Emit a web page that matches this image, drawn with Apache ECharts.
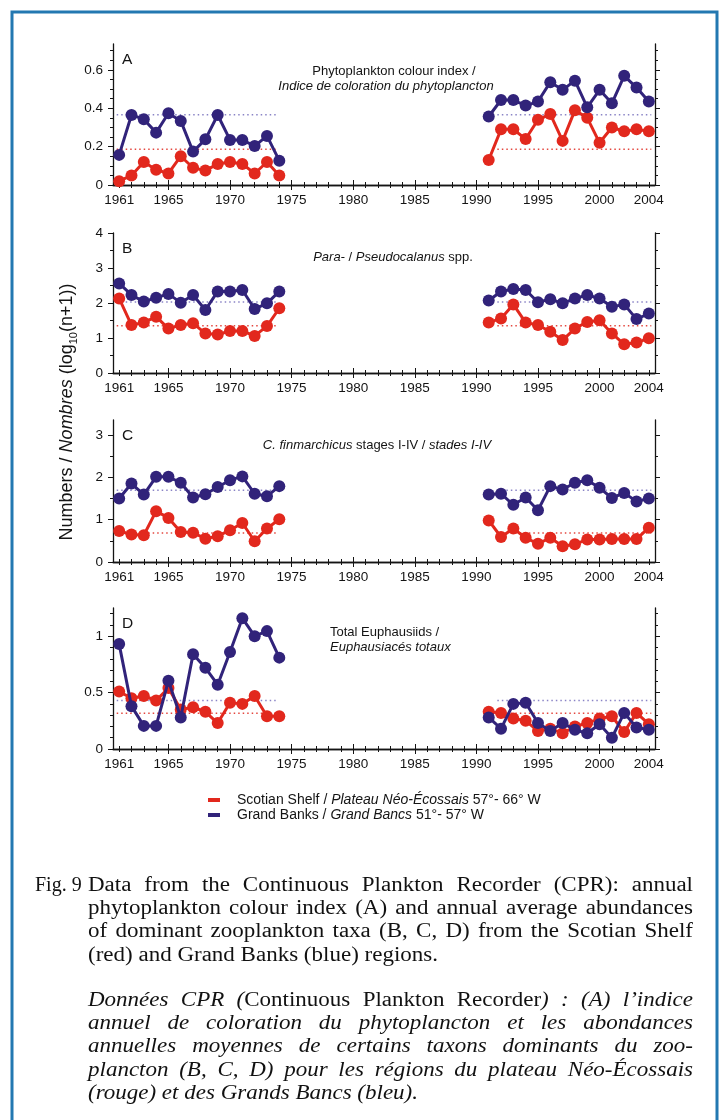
<!DOCTYPE html>
<html>
<head>
<meta charset="utf-8">
<script src="https://cdn.jsdelivr.net/npm/echarts@6/dist/echarts.min.js"></script>
<style>
  html, body { margin: 0; padding: 0; background: #ffffff; }
  #chart { width: 722px; height: 1120px; }
</style>
</head>
<body>
<div id="chart"></div>
<script>
// ---- Survey years (two CPR sampling periods) ----
const years = [1961, 1962, 1963, 1964, 1965, 1966, 1967, 1968, 1969, 1970, 1971, 1972, 1973, 1974,
               1991, 1992, 1993, 1994, 1995, 1996, 1997, 1998, 1999, 2000, 2001, 2002, 2003, 2004];

// ---- A: phytoplankton colour index ----
const colourScotian = [0.02, 0.05, 0.12, 0.08, 0.06, 0.15, 0.09, 0.075, 0.11, 0.12, 0.11, 0.06, 0.12, 0.05,
                       0.13, 0.29, 0.29, 0.24, 0.34, 0.37, 0.23, 0.39, 0.35, 0.22, 0.30, 0.28, 0.29, 0.28];
const colourBanks = [0.157, 0.365, 0.343, 0.273, 0.374, 0.334, 0.174, 0.238, 0.365, 0.235, 0.235, 0.203, 0.256, 0.127,
                     0.357, 0.443, 0.443, 0.414, 0.435, 0.536, 0.496, 0.544, 0.405, 0.496, 0.426, 0.569, 0.508, 0.435];

// ---- B: Para- / Pseudocalanus spp. ----
const pseudoScotian = [2.13, 1.37, 1.44, 1.61, 1.27, 1.37, 1.42, 1.13, 1.10, 1.20, 1.20, 1.06, 1.34, 1.85,
                       1.44, 1.56, 1.96, 1.44, 1.37, 1.18, 0.94, 1.27, 1.46, 1.51, 1.13, 0.82, 0.87, 0.99];
const pseudoBanks = [2.56, 2.23, 2.04, 2.15, 2.26, 2.01, 2.23, 1.80, 2.33, 2.33, 2.37, 1.83, 1.99, 2.33,
                     2.07, 2.33, 2.40, 2.37, 2.02, 2.11, 1.99, 2.13, 2.23, 2.13, 1.89, 1.96, 1.54, 1.70];

// ---- C: Calanus finmarchicus stages I-IV ----
const finScotian = [0.73, 0.65, 0.63, 1.20, 1.04, 0.71, 0.69, 0.55, 0.61, 0.75, 0.92, 0.49, 0.79, 1.01,
                    0.98, 0.59, 0.79, 0.57, 0.43, 0.57, 0.37, 0.42, 0.53, 0.53, 0.54, 0.54, 0.54, 0.81];
const finBanks = [1.50, 1.85, 1.59, 2.01, 2.01, 1.87, 1.52, 1.60, 1.77, 1.93, 2.02, 1.61, 1.55, 1.79,
                  1.59, 1.61, 1.35, 1.52, 1.22, 1.79, 1.71, 1.87, 1.93, 1.75, 1.51, 1.63, 1.43, 1.50];

// ---- D: total euphausiids ----
const euphScotian = [0.51, 0.45, 0.47, 0.43, 0.54, 0.35, 0.37, 0.33, 0.23, 0.41, 0.40, 0.47, 0.29, 0.29,
                     0.33, 0.32, 0.27, 0.25, 0.16, 0.18, 0.14, 0.20, 0.23, 0.27, 0.29, 0.15, 0.32, 0.22];
const euphBanks = [0.93, 0.38, 0.205, 0.205, 0.605, 0.28, 0.84, 0.72, 0.57, 0.86, 1.16, 1.00, 1.045, 0.81,
                   0.28, 0.18, 0.40, 0.41, 0.23, 0.16, 0.23, 0.17, 0.14, 0.22, 0.10, 0.32, 0.19, 0.17];

// ---- Reference levels (dotted lines) per panel A-D ----
const scotianRef = [0.187, 1.35, 0.686, 0.318];
const banksRef = [0.366, 2.03, 1.695, 0.43];
const refSpans = [[1960.8, 1973.9], [1991.7, 2004.2]];

// ---- Axis ticks / labels ----
const yearLabels = [1961, 1965, 1970, 1975, 1980, 1985, 1990, 1995, 2000, 2004];
const yearMajorTicks = [1965, 1970, 1975, 1980, 1985, 1990, 1995, 2000];
const yMax = [0.735, 4.0, 3.35, 1.25];
const yLabels = [[0, 0.2, 0.4, 0.6], [0, 1, 2, 3, 4], [0, 1, 2, 3], [0, 0.5, 1]];
const yMinorStep = [0.05, 0.5, 0.5, 0.1];

const panelLetters = ['A', 'B', 'C', 'D'];
const scotianSets = [colourScotian, pseudoScotian, finScotian, euphScotian];
const banksSets = [colourBanks, pseudoBanks, finBanks, euphBanks];

// ---- Layout and style ----
const RED = '#e2281d';
const BLUE = '#31237a';
const RED_DOT = '#e4473f';
const BLUE_DOT = '#8a84c6';
const INK = '#141414';
const SANS = '"Liberation Sans", Arial, Helvetica, sans-serif';
const SERIF = '"Liberation Serif", "Times New Roman", serif';
const panelBoxes = [
  { top: 44, height: 141 },
  { top: 233, height: 140 },
  { top: 420, height: 142 },
  { top: 608, height: 141 }
];
const PLOT_LEFT = 113, PLOT_WIDTH = 542;

const minorYears = [];
for (let y = 1961; y <= 2004; y++) if (yearMajorTicks.indexOf(y) < 0) minorYears.push(y);

function minorValues(max, step, majors) {
  const out = [];
  for (let i = 1; i * step <= max + 1e-9; i++) {
    const v = +(i * step).toFixed(4);
    if (!majors.some(m => Math.abs(m - v) < 1e-9)) out.push(v);
  }
  return out;
}

function fmtY(v) {
  return String(+v.toFixed(2));
}

const grids = [], xAxes = [], yAxes = [], series = [];
const axisLine = { show: true, lineStyle: { color: INK, width: 1.3 } };
const tickStyle = { color: INK, width: 1 };
const labelStyle = { fontFamily: SANS, fontSize: 13.5, color: INK };

panelBoxes.forEach((box, k) => {
  grids.push({ left: PLOT_LEFT, width: PLOT_WIDTH, top: box.top, height: box.height, containLabel: false });

  const xb = { type: 'value', gridIndex: k, min: 1960.5, max: 2004.5, splitLine: { show: false } };
  // bottom: labels + major ticks
  xAxes.push(Object.assign({}, xb, {
    position: 'bottom', axisLine: axisLine,
    axisTick: { show: true, customValues: yearMajorTicks, length: 5, lineStyle: tickStyle },
    axisLabel: Object.assign({ show: true, customValues: yearLabels, margin: 8, formatter: v => String(v) }, labelStyle)
  }));
  // bottom: minor ticks
  xAxes.push(Object.assign({}, xb, {
    position: 'bottom', axisLine: { show: false },
    axisTick: { show: true, customValues: minorYears, length: 3, lineStyle: tickStyle },
    axisLabel: { show: false }
  }));
  // top: major + minor ticks
  xAxes.push(Object.assign({}, xb, {
    position: 'top', axisLine: axisLine,
    axisTick: { show: true, customValues: yearMajorTicks, length: 5, lineStyle: tickStyle },
    axisLabel: { show: false }
  }));
  xAxes.push(Object.assign({}, xb, {
    position: 'top', axisLine: { show: false },
    axisTick: { show: true, customValues: minorYears, length: 3, lineStyle: tickStyle },
    axisLabel: { show: false }
  }));

  const minors = minorValues(yMax[k], yMinorStep[k], yLabels[k]);
  const yb = { type: 'value', gridIndex: k, min: 0, max: yMax[k], splitLine: { show: false } };
  yAxes.push(Object.assign({}, yb, {
    position: 'left', axisLine: axisLine,
    axisTick: { show: true, customValues: yLabels[k], length: 5, lineStyle: tickStyle },
    axisLabel: Object.assign({ show: true, customValues: yLabels[k], margin: 10, formatter: fmtY }, labelStyle)
  }));
  yAxes.push(Object.assign({}, yb, {
    position: 'left', axisLine: { show: false },
    axisTick: { show: true, customValues: minors, length: 3, lineStyle: tickStyle },
    axisLabel: { show: false }
  }));
  yAxes.push(Object.assign({}, yb, {
    position: 'right', axisLine: axisLine,
    axisTick: { show: true, customValues: yLabels[k], length: 5, lineStyle: tickStyle },
    axisLabel: { show: false }
  }));
  yAxes.push(Object.assign({}, yb, {
    position: 'right', axisLine: { show: false },
    axisTick: { show: true, customValues: minors, length: 3, lineStyle: tickStyle },
    axisLabel: { show: false }
  }));

  const xi = 4 * k, yi = 4 * k;

  // dotted reference levels
  [[scotianRef[k], RED_DOT, 'Scotian Shelf ref'], [banksRef[k], BLUE_DOT, 'Grand Banks ref']].forEach(([lvl, col, nm]) => {
    refSpans.forEach(span => {
      series.push({
        type: 'line', name: nm, xAxisIndex: xi, yAxisIndex: yi, symbol: 'none', silent: true, z: 1,
        data: [[span[0], lvl], [span[1], lvl]],
        lineStyle: { color: col, width: 1.5, type: [1.5, 3] }
      });
    });
  });

  // observed series, drawn per sampling period so the gap stays open
  [[scotianSets[k], RED, 'Scotian Shelf', 3], [banksSets[k], BLUE, 'Grand Banks', 4]].forEach(([vals, col, nm, z]) => {
    [[1960, 1980], [1980, 2010]].forEach(([lo, hi]) => {
      const data = [];
      years.forEach((yr, i) => { if (yr >= lo && yr < hi) data.push([yr, vals[i]]); });
      series.push({
        type: 'line', name: nm, xAxisIndex: xi, yAxisIndex: yi, z: z,
        data: data, symbol: 'circle', symbolSize: 12, showSymbol: true,
        lineStyle: { color: col, width: 3 }, itemStyle: { color: col }
      });
    });
  });
});

// ---- Text overlays ----
const graphics = [];

// outer frame
graphics.push({
  type: 'rect', shape: { x: 12, y: 12, width: 705, height: 1120 },
  style: { fill: 'none', stroke: '#2378b1', lineWidth: 3 }, z: 0
});

// panel letters
panelBoxes.forEach((box, k) => {
  graphics.push({
    type: 'text', x: 122, y: box.top + 16,
    style: { text: panelLetters[k], font: '15.5px ' + SANS, fill: INK, verticalAlign: 'middle' }
  });
});

const rich13 = {
  n: { fontFamily: SANS, fontSize: 13, fill: INK },
  i: { fontFamily: SANS, fontSize: 13, fontStyle: 'italic', fill: INK }
};
function note(text, x, y, align) {
  graphics.push({
    type: 'text', x: x, y: y,
    style: { text: text, rich: rich13, align: align, verticalAlign: 'middle', font: '13px ' + SANS, fill: INK }
  });
}
note('{n|Phytoplankton colour index /}', 394, 71, 'center');
note('{i|Indice de coloration du phytoplancton}', 386, 86, 'center');
note('{i|Para-}{n| / }{i|Pseudocalanus}{n| spp.}', 393, 257, 'center');
note('{i|C. finmarchicus}{n| stages I-IV / }{i|stades I-IV}', 377, 445, 'center');
note('{n|Total Euphausiids /}', 330, 632, 'left');
note('{i|Euphausiacés totaux}', 330, 647, 'left');

// shared y-axis title
graphics.push({
  type: 'text', x: 67, y: 412, rotation: Math.PI / 2,
  style: {
    text: '{n|Numbers / }{i|Nombres}{n| (log}{s|10}{n|(n+1))}',
    align: 'center', verticalAlign: 'middle',
    rich: {
      n: { fontFamily: SANS, fontSize: 18, fill: INK, lineHeight: 24 },
      i: { fontFamily: SANS, fontSize: 18, fontStyle: 'italic', fill: INK, lineHeight: 24 },
      s: { fontFamily: SANS, fontSize: 11, fill: INK, lineHeight: 12, verticalAlign: 'bottom' }
    }
  }
});

// legend
const legendRows = [
  { color: RED, y: 800, text: '{n|Scotian Shelf / }{i|Plateau Néo-Écossais}{n| 57°- 66° W}' },
  { color: BLUE, y: 815, text: '{n|Grand Banks / }{i|Grand Bancs}{n| 51°- 57° W}' }
];
const rich14 = {
  n: { fontFamily: SANS, fontSize: 14, fill: INK },
  i: { fontFamily: SANS, fontSize: 14, fontStyle: 'italic', fill: INK }
};
legendRows.forEach(r => {
  graphics.push({ type: 'rect', shape: { x: 208, y: r.y - 2, width: 12, height: 4 }, style: { fill: r.color } });
  graphics.push({ type: 'text', x: 237, y: r.y, style: { text: r.text, rich: rich14, verticalAlign: 'middle' } });
});

// caption, justified word by word; "_" toggles italic
const captionEN = [
  'Data from the Continuous Plankton Recorder (CPR): annual',
  'phytoplankton colour index (A) and annual average abundances',
  'of dominant zooplankton taxa (B, C, D) from the Scotian Shelf',
  '(red) and Grand Banks (blue) regions.'
];
const captionFR = [
  '_Données CPR (_Continuous Plankton Recorder_) : (A) l’indice_',
  '_annuel de coloration du phytoplancton et les abondances_',
  '_annuelles moyennes de certains taxons dominants du zoo-_',
  '_plancton (B, C, D) pour les régions du plateau Néo-Écossais_',
  '_(rouge) et des Grands Bancs (bleu)._'
];
const CAP_FS = 20, CAP_X0 = 88, CAP_X1 = 693, CAP_LEAD = 23.1;
const mctx = document.createElement('canvas').getContext('2d');
function capFont(it) { return (it ? 'italic ' : '') + CAP_FS + 'px ' + SERIF; }
function measure(t, it) { mctx.font = capFont(it); return mctx.measureText(t).width; }

function parseLine(line) {
  // returns words: each word = array of {t, it}
  const words = [[]];
  let it = false;
  for (const ch of line) {
    if (ch === '_') { it = !it; continue; }
    if (ch === ' ') { words.push([]); continue; }
    const w = words[words.length - 1];
    if (w.length && w[w.length - 1].it === it) w[w.length - 1].t += ch;
    else w.push({ t: ch, it: it });
  }
  return words.filter(w => w.length);
}
const allLines = [];
captionEN.forEach((l, i) => allLines.push({ words: parseLine(l), y: 886 + i * CAP_LEAD, justify: i < captionEN.length - 1 }));
captionFR.forEach((l, i) => allLines.push({ words: parseLine(l), y: 1001 + i * CAP_LEAD, justify: i < captionFR.length - 1 }));
allLines.forEach(L => { L.natural = L.words.map(w => w.reduce((s, p) => s + measure(p.t, p.it), 0)); });

// horizontal glyph scale so the tightest justified line keeps a normal word gap
let sx = 2;
allLines.forEach(L => {
  if (!L.justify) return;
  const nat = L.natural.reduce((a, b) => a + b, 0);
  const gaps = L.words.length - 1;
  sx = Math.min(sx, (CAP_X1 - CAP_X0 - gaps * 0.25 * CAP_FS) / nat);
});
sx = Math.max(1, Math.min(sx, 1.15));

allLines.forEach(L => {
  const nat = L.natural.reduce((a, b) => a + b, 0) * sx;
  const gaps = L.words.length - 1;
  const gap = L.justify ? (CAP_X1 - CAP_X0 - nat) / gaps : 0.25 * CAP_FS * sx;
  let x = CAP_X0;
  L.words.forEach((w, wi) => {
    w.forEach(p => {
      graphics.push({
        type: 'text', x: x, y: L.y, scaleX: sx,
        style: { text: p.t, font: capFont(p.it), fill: '#111', verticalAlign: 'middle' }
      });
      x += measure(p.t, p.it) * sx;
    });
    x += gap;
  });
});
graphics.push({
  type: 'text', x: 35, y: 886,
  style: { text: 'Fig. 9', font: capFont(false), fill: '#111', verticalAlign: 'middle' }
});

const chart = echarts.init(document.getElementById('chart'), null, { renderer: 'canvas' });
chart.setOption({
  animation: false,
  backgroundColor: '#ffffff',
  grid: grids,
  xAxis: xAxes,
  yAxis: yAxes,
  series: series,
  graphic: { elements: graphics }
});
</script>
</body>
</html>
